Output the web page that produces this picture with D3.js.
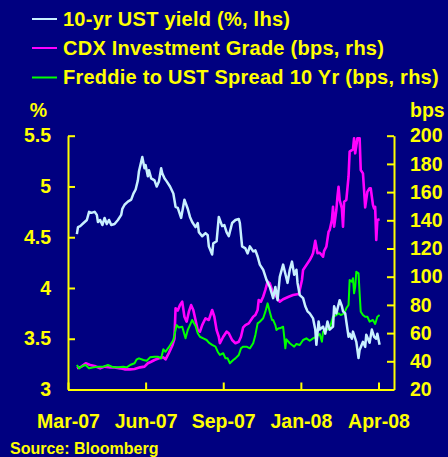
<!DOCTYPE html>
<html><head><meta charset="utf-8">
<script src="https://cdn.jsdelivr.net/npm/d3@7"></script>
<style>
html,body{margin:0;padding:0;background:#000080;}
svg{display:block;}
text{font-family:"Liberation Sans",Arial,sans-serif;font-weight:bold;fill:#ffff00;}
</style>
</head><body>
<svg id="chart" width="448" height="457"></svg>
<script>
// ---- data (x = business-day index from start of Mar-07) ----
const xTickDays = [0, 70, 140, 210, 280];
const xTickLabels = ["Mar-07", "Jun-07", "Sep-07", "Jan-08", "Apr-08"];
const leftTicks = [3, 3.5, 4, 4.5, 5, 5.5];
const rightTicks = [20, 40, 60, 80, 100, 120, 140, 160, 180, 200];
const seriesNames = ["10-yr UST yield (%, lhs)", "CDX Investment Grade (bps, rhs)", "Freddie to UST Spread 10 Yr (bps, rhs)"];
const seriesColors = ["#c8f0ff", "#ff00ff", "#00ff00"];

const ust = [[8,4.53],[9,4.60],[11,4.61],[14,4.64],[17,4.67],[19,4.75],[21,4.74],[24,4.75],[26,4.72],[27,4.65],[29,4.67],[31,4.62],[33,4.69],[35,4.63],[37,4.67],[39,4.62],[42,4.63],[45,4.67],[48,4.72],[49,4.78],[51,4.82],[54,4.85],[57,4.87],[59,4.93],[61,4.97],[63,5.06],[64,5.15],[67,5.29],[69,5.18],[70,5.21],[72,5.10],[73,5.16],[75,5.08],[78,5.06],[80,5.00],[82,5.05],[84,5.18],[85,5.13],[87,5.08],[89,5.05],[92,5.00],[95,4.93],[97,4.80],[99,4.79],[102,4.69],[105,4.87],[108,4.78],[110,4.70],[112,4.65],[115,4.60],[117,4.64],[118,4.55],[121,4.51],[124,4.54],[126,4.52],[127,4.41],[130,4.33],[131,4.44],[134,4.46],[136,4.70],[139,4.61],[141,4.62],[143,4.55],[145,4.51],[148,4.64],[151,4.67],[154,4.68],[155,4.64],[157,4.41],[160,4.39],[162,4.34],[164,4.41],[167,4.36],[169,4.37],[171,4.31],[173,4.23],[176,4.18],[179,4.08],[182,4.01],[185,3.90],[187,4.01],[189,3.88],[191,4.11],[194,4.23],[196,4.14],[198,4.05],[200,4.18],[202,4.26],[204,4.13],[206,4.18],[207,4.05],[209,3.93],[212,3.90],[214,3.82],[216,3.77],[218,3.75],[221,3.70],[223,3.59],[224,3.44],[226,3.67],[227,3.59],[230,3.62],[232,3.55],[234,3.67],[236,3.59],[239,3.62],[240,3.82],[242,3.75],[245,3.88],[247,3.82],[248,3.77],[250,3.75],[251,3.67],[253,3.52],[254,3.55],[256,3.50],[257,3.57],[260,3.47],[262,3.31],[263,3.39],[266,3.47],[268,3.42],[269,3.54],[272,3.46],[274,3.59],[276,3.52],[278,3.50],[279,3.55],[281,3.44]];

const cdx = [[8,35.0],[12,36.2],[16,38.6],[20,37.4],[24,36.7],[29,35.0],[33,36.2],[38,35.7],[42,35.7],[47,35.0],[51,34.3],[56,34.3],[60,34.5],[65,35.7],[69,36.2],[72,38.6],[75,39.7],[78,40.9],[82,42.1],[86,42.8],[88,41.4],[91,46.0],[94,51.0],[96,56.0],[97,77.6],[99,76.0],[101,79.9],[103,82.3],[105,71.6],[107,68.1],[109,75.2],[111,79.9],[113,76.4],[115,69.3],[117,62.2],[119,61.0],[121,65.7],[124,70.5],[127,69.3],[130,76.4],[132,71.6],[134,62.2],[136,57.4],[137,52.8],[140,57.4],[143,61.0],[145,59.9],[148,55.1],[151,52.8],[154,53.9],[156,57.4],[158,64.1],[160,65.7],[163,66.9],[167,71.6],[169,72.8],[171,76.4],[172,83.5],[174,82.3],[176,85.8],[178,90.6],[180,96.5],[182,95.3],[184,90.6],[185,88.2],[187,87.0],[188,85.8],[191,82.3],[194,84.0],[199,85.8],[203,87.0],[208,87.7],[209,90.6],[211,97.7],[212,104.8],[215,108.3],[218,111.8],[220,114.8],[221,116.6],[223,125.5],[225,116.6],[227,117.0],[230,114.2],[231,118.4],[233,121.3],[235,131.9],[236,133.1],[238,140.2],[239,149.6],[240,135.5],[242,147.3],[243,156.7],[244,163.8],[245,154.4],[247,148.5],[248,135.5],[249,153.2],[251,154.4],[253,170.9],[254,188.7],[257,190.3],[258,198.2],[259,187.5],[261,198.2],[263,198.2],[264,175.7],[266,173.3],[267,161.5],[268,149.2],[270,160.3],[272,162.7],[273,162.7],[275,150.9],[276,148.5],[277,149.6],[278,126.0],[279,140.2],[281,140.7]];

const freddie = [[8,37.4],[10,35.0],[13,36.7],[16,37.4],[19,35.0],[23,35.7],[27,36.2],[32,36.2],[36,37.4],[41,35.7],[45,35.7],[50,36.2],[53,35.7],[56,37.4],[60,38.6],[62,41.4],[64,42.1],[68,40.9],[71,40.4],[74,42.8],[78,43.3],[81,43.3],[84,42.1],[86,48.5],[88,46.8],[91,50.0],[95,55.1],[98,65.7],[100,64.0],[103,64.5],[106,56.3],[108,62.2],[110,65.7],[112,69.3],[115,65.0],[117,59.9],[119,57.4],[122,56.3],[125,55.1],[127,53.2],[130,51.6],[133,50.4],[135,46.8],[137,44.5],[140,45.7],[142,42.1],[144,42.1],[146,38.6],[149,40.9],[151,42.1],[154,44.5],[156,49.2],[158,50.4],[161,50.4],[164,49.2],[167,52.8],[169,58.7],[171,66.9],[173,68.1],[176,70.5],[178,75.2],[180,81.1],[182,75.0],[184,69.3],[185,69.3],[187,65.7],[188,62.2],[190,63.4],[191,63.4],[194,64.5],[195,57.4],[196,49.2],[197,55.6],[200,52.8],[202,51.6],[204,50.4],[206,52.3],[209,51.6],[212,55.1],[215,56.3],[218,54.6],[221,56.3],[224,57.4],[227,59.4],[229,53.9],[230,61.0],[233,62.2],[236,63.4],[239,71.6],[242,72.8],[244,74.0],[246,72.8],[249,74.0],[251,77.6],[253,79.9],[254,97.7],[256,96.5],[257,98.9],[258,88.2],[259,92.9],[260,103.5],[262,102.4],[263,88.2],[264,75.2],[266,72.8],[268,71.6],[270,71.6],[272,68.1],[275,69.3],[277,66.5],[279,71.6],[281,72.8]];

// ---- layout ----
const W = 448, H = 457;
const plot = {left: 68, right: 394, top: 135.7, bottom: 389.5};
const svg = d3.select("#chart");
svg.append("rect").attr("width", W).attr("height", H).attr("fill", "#000080");

const x = d3.scaleLinear().domain([0, 294]).range([plot.left, plot.right]);
const yL = d3.scaleLinear().domain([3, 5.5]).range([plot.bottom, plot.top]);
const yR = d3.scaleLinear().domain([20, 200]).range([plot.bottom, plot.top]);

const axisFont = "19.5px";

function styleAxis(g) {
  g.selectAll("path.domain").attr("stroke", "#ffff00").attr("stroke-width", 2);
  g.selectAll(".tick line").attr("stroke", "#ffff00").attr("stroke-width", 2);
  g.selectAll(".tick text").attr("fill", "#ffff00")
    .style("font-family", '"Liberation Sans", Arial, sans-serif')
    .style("font-weight", "bold").style("font-size", axisFont);
}

// left axis
const gL = svg.append("g").attr("transform", `translate(${plot.left},0)`)
  .call(d3.axisLeft(yL).tickValues(leftTicks).tickFormat(d => String(d))
    .tickSizeInner(-7).tickSizeOuter(0).tickPadding(17));
styleAxis(gL);

// right axis
const gR = svg.append("g").attr("transform", `translate(${plot.right},0)`)
  .call(d3.axisRight(yR).tickValues(rightTicks).tickFormat(d => String(d))
    .tickSizeInner(-7).tickSizeOuter(0).tickPadding(16));
styleAxis(gR);

// bottom axis
const gB = svg.append("g").attr("transform", `translate(0,${plot.bottom})`)
  .call(d3.axisBottom(x).tickValues(xTickDays).tickFormat((d, i) => xTickLabels[i])
    .tickSizeInner(-7).tickSizeOuter(0).tickPadding(25));
styleAxis(gB);

// lines
const lineL = d3.line().x(d => x(d[0])).y(d => yL(d[1]));
const lineR = d3.line().x(d => x(d[0])).y(d => yR(d[1]));

svg.append("path").datum(cdx).attr("d", lineR)
  .attr("fill", "none").attr("stroke", seriesColors[1]).attr("stroke-width", 2.6).attr("stroke-linejoin", "round");
svg.append("path").datum(freddie).attr("d", lineR)
  .attr("fill", "none").attr("stroke", seriesColors[2]).attr("stroke-width", 2).attr("stroke-linejoin", "round");
svg.append("path").datum(ust).attr("d", lineL)
  .attr("fill", "none").attr("stroke", seriesColors[0]).attr("stroke-width", 2.5).attr("stroke-linejoin", "round");

// axis unit titles
svg.append("text").attr("x", 38.5).attr("y", 116.7).attr("text-anchor", "middle")
  .style("font-size", axisFont).text("%");
svg.append("text").attr("x", 410).attr("y", 116.7).attr("text-anchor", "start")
  .style("font-size", axisFont).text("bps");

// legend
const legend = svg.append("g");
const legendY = [19, 48, 77.5];
seriesNames.forEach((name, i) => {
  legend.append("line").attr("x1", 32).attr("x2", 57).attr("y1", legendY[i]).attr("y2", legendY[i])
    .attr("stroke", seriesColors[i]).attr("stroke-width", 2);
  legend.append("text").attr("x", 63).attr("y", legendY[i] + 6.8)
    .style("font-size", "20px").style("letter-spacing", "0.25px").text(name);
});

// source
svg.append("text").attr("x", 10).attr("y", 454.3).style("font-size", "16px").text("Source: Bloomberg");
</script>
</body></html>
